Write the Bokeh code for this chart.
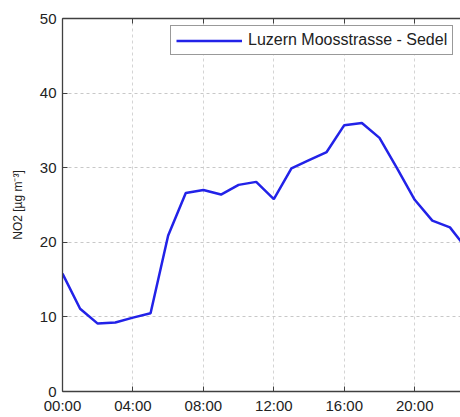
from bokeh.plotting import figure
from bokeh.models import ColumnDataSource, FixedTicker, LinearAxis, Legend, LegendItem, Range1d
from bokeh.embed import file_html
from bokeh.resources import INLINE

hours = list(range(24))
no2 = [15.8, 11.1, 9.1, 9.25, 9.9, 10.5, 20.9, 26.6, 27.0, 26.4, 27.7, 28.1,
       25.8, 29.9, 31.0, 32.1, 35.7, 36.0, 34.0, 29.9, 25.7, 22.9, 22.0, 19.0]
x_ticks = [0, 4, 8, 12, 16, 20]
x_tick_labels = ["00:00", "04:00", "08:00", "12:00", "16:00", "20:00"]
y_ticks = [0, 10, 20, 30, 40, 50]
series_name = "Luzern Moosstrasse - Sedel"

FONT = "Liberation Sans"
AX = "#404040"

p = figure(width=460, height=417, output_backend="svg", toolbar_location=None,
           x_range=Range1d(0, 22.6), y_range=Range1d(0, 50),
           min_border_left=62, min_border_right=0, min_border_top=18, min_border_bottom=26)
p.outline_line_color = None
p.background_fill_color = "white"
p.border_fill_color = "white"

src = ColumnDataSource(dict(h=hours, v=no2))
r = p.line("h", "v", source=src, line_color="#2222e8", line_width=2.5)

for ax in (p.xaxis[0], p.yaxis[0]):
    ax.axis_line_color = AX
    ax.axis_line_width = 1.3
    ax.major_tick_line_color = AX
    ax.major_tick_in = 5
    ax.major_tick_out = 0
    ax.minor_tick_line_color = None
    ax.major_label_text_font = FONT
    ax.major_label_text_font_size = "15px"
    ax.major_label_text_color = "#222222"

p.xaxis[0].ticker = FixedTicker(ticks=x_ticks)
p.xaxis[0].major_label_overrides = {t: l for t, l in zip(x_ticks, x_tick_labels)}
p.xaxis[0].major_label_standoff = 5

p.yaxis[0].ticker = FixedTicker(ticks=y_ticks)
p.yaxis[0].major_label_standoff = 6
p.yaxis[0].axis_label = "NO2 [µg m⁻³]"
p.yaxis[0].axis_label_text_font = FONT
p.yaxis[0].axis_label_text_font_size = "12px"
p.yaxis[0].axis_label_text_font_style = "normal"
p.yaxis[0].axis_label_text_color = "#222222"
p.yaxis[0].axis_label_standoff = 12

top = LinearAxis(ticker=FixedTicker(ticks=x_ticks))
top.axis_line_color = AX
top.axis_line_width = 1.3
top.major_tick_line_color = AX
top.major_tick_in = 5
top.major_tick_out = 0
top.minor_tick_line_color = None
top.major_label_text_color = None
top.major_label_text_font_size = "10px"
top.major_label_standoff = 0
p.add_layout(top, "above")

for g in (p.xgrid[0], p.ygrid[0]):
    g.grid_line_color = "#c8c8c8"
    g.grid_line_dash = "3 3"
    g.grid_line_width = 1
p.xgrid[0].ticker = FixedTicker(ticks=x_ticks)
p.xgrid[0].grid_line_color = "#d4d4d4"
p.ygrid[0].ticker = FixedTicker(ticks=y_ticks)

legend = Legend(items=[LegendItem(label=series_name, renderers=[r])],
                location=(108, 336))
legend.label_text_font = FONT
legend.label_text_font_size = "16px"
legend.label_text_color = "#222222"
legend.glyph_width = 66
legend.glyph_height = 17
legend.label_height = 17
legend.label_standoff = 6
legend.padding = 5
legend.margin = 0
legend.border_line_color = "#333333"
legend.border_line_width = 1.2
legend.background_fill_color = "white"
legend.background_fill_alpha = 1
p.add_layout(legend, "center")

open("out.html", "w").write(file_html(p, INLINE))
